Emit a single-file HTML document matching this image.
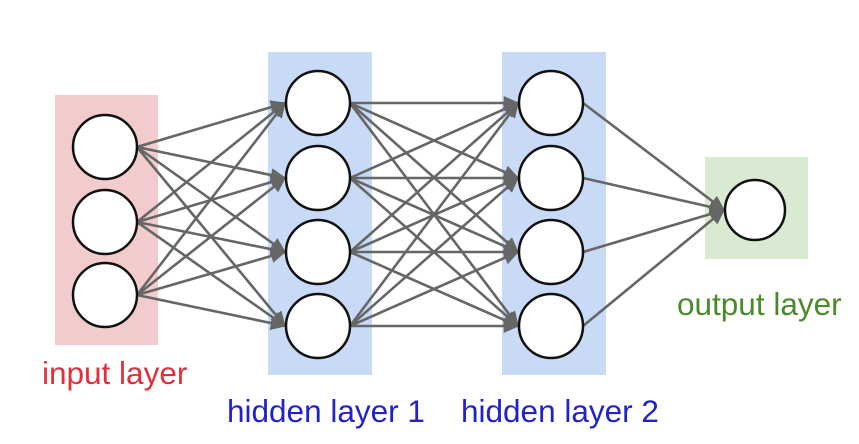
<!DOCTYPE html>
<html><head><style>body{margin:0;background:#fff}svg{display:block}</style></head>
<body>
<svg width="859" height="444" viewBox="0 0 859 444" xmlns="http://www.w3.org/2000/svg">
<defs><marker id="a" markerWidth="6" markerHeight="6" refX="5.5" refY="3" orient="auto" markerUnits="strokeWidth"><path d="M0,0.3L6,3L0,5.7z" fill="#666"/></marker></defs>
<rect x="55" y="95" width="103" height="250" fill="#f2cccc"/>
<rect x="268" y="52" width="104" height="323" fill="#c9daf6"/>
<rect x="502" y="52" width="104" height="323" fill="#c9daf6"/>
<rect x="705" y="157" width="103" height="102" fill="#d8ead2"/>
<g id="lines" stroke="#666" stroke-width="2.6" fill="none" marker-end="url(#a)"></g>
<g id="nodes" fill="#fff" stroke="#111" stroke-width="2.5"></g>
<g font-family="Liberation Sans, sans-serif" font-size="31.5">
<text x="42" y="384" fill="#e0303a">input layer</text>
<text x="227" y="422" fill="#2222cc">hidden layer 1</text>
<text x="461" y="422" fill="#2222cc">hidden layer 2</text>
<text x="677" y="315" fill="#4a8a2a">output layer</text>
</g>
<script>
var L=[[105,[147,222,295]],[318,[103,178,252,326]],[551,[103,178,252,326]],[755,[210]]];
var r=32,ns="http://www.w3.org/2000/svg",lg=document.getElementById('lines'),ng=document.getElementById('nodes');
for(var i=0;i<3;i++){var A=L[i],B=L[i+1];A[1].forEach(function(y1){B[1].forEach(function(y2){var rb=i==2?30:r;var l=document.createElementNS(ns,'line');l.setAttribute('x1',A[0]+r);l.setAttribute('y1',y1);l.setAttribute('x2',B[0]-rb-1);l.setAttribute('y2',y2);lg.appendChild(l);});});}
L.forEach(function(A,i){A[1].forEach(function(y){var c=document.createElementNS(ns,'circle');c.setAttribute('cx',A[0]);c.setAttribute('cy',y);c.setAttribute('r',i==3?30:r);ng.appendChild(c);});});
</script>
</svg>
</body></html>
